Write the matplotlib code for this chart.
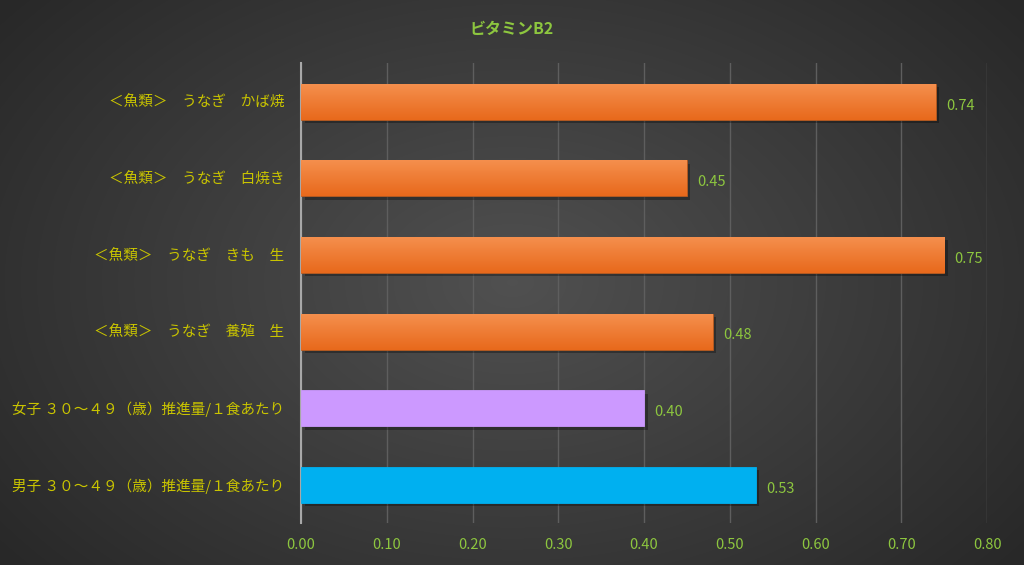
"""ビタミンB2 comparison chart, dark theme."""
import matplotlib
matplotlib.use("Agg")
import matplotlib.pyplot as plt
import matplotlib.patheffects as pe
import numpy as np

plt.rcParams['font.family'] = ['Noto Sans CJK JP', 'DejaVu Sans']

# data (bottom to top)
labels = [
    "男子 ３０～４９（歳）推進量/１食あたり",
    "女子 ３０～４９（歳）推進量/１食あたり",
    "＜魚類＞　うなぎ　養殖　生",
    "＜魚類＞　うなぎ　きも　生",
    "＜魚類＞　うなぎ　白焼き",
    "＜魚類＞　うなぎ　かば焼",
]
values = [0.53, 0.40, 0.48, 0.75, 0.45, 0.74]
colors = ["#00b0f0", "#cc99ff", "#f07a28", "#f07a28", "#f07a28", "#f07a28"]
xticks = [0.0, 0.1, 0.2, 0.3, 0.4, 0.5, 0.6, 0.7, 0.8]
title = "ビタミンB2"

label_col = "#c9c400"
green = "#8dc63f"

fig = plt.figure(figsize=(10.24, 5.65), dpi=100)

# radial background
bg = fig.add_axes([0, 0, 1, 1], zorder=-10)
yy, xx = np.mgrid[0:565, 0:1024]
r = np.sqrt(((xx - 512) / 620.0) ** 2 + ((yy - 282) / 420.0) ** 2)
shade = np.clip(0.315 - 0.15 * r, 0.16, 0.32)
bg.imshow(np.dstack([shade] * 3), aspect="auto", extent=[0, 1, 0, 1])
bg.axis("off")

ax = fig.add_axes([0.294, 0.0743, 0.670, 0.8135])
ax.set_facecolor("none")

bars = ax.barh(range(len(values)), values, height=0.47, color=colors,
               edgecolor="#b85a20", linewidth=0.6, zorder=3)
for b, c in zip(bars, colors):
    if c != "#f07a28":
        b.set_edgecolor(c)
    b.set_path_effects([pe.SimplePatchShadow(offset=(2.5, -2.5), alpha=0.3,
                                             shadow_rgbFace="black"), pe.Normal()])
    # subtle vertical gradient on the orange bars
    if c == "#f07a28":
        x0, y0 = b.get_x(), b.get_y()
        grad = np.linspace(0, 1, 50).reshape(-1, 1)
        cmap = matplotlib.colors.LinearSegmentedColormap.from_list(
            "o", ["#e8691c", "#f5904e"])
        im = ax.imshow(grad, cmap=cmap, aspect="auto", origin="lower",
                       extent=[x0, x0 + b.get_width(), y0, y0 + b.get_height()],
                       zorder=3.5)
        im.set_clip_path(b)

for i, v in enumerate(values):
    ax.text(v + 0.012, i - 0.05, f"{v:.2f}", va="center", ha="left",
            color=green, fontsize=10.5)

ax.set_xlim(0, 0.8)
ax.set_ylim(-0.5, len(values) - 0.5)
ax.set_xticks(xticks, [f"{t:.2f}" for t in xticks])
ax.set_yticks(range(len(labels)), labels)
ax.tick_params(axis="x", colors=green, labelsize=10.5, length=0, pad=11)
ax.tick_params(axis="y", colors=label_col, labelsize=10.5, length=0, pad=12)
for t in ax.get_xticklabels():
    t.set_color(green)
for t in ax.get_yticklabels():
    t.set_color(label_col)

ax.grid(axis="x", color="#5e5e5e", linewidth=1, zorder=0)
ax.grid(axis="y", visible=False)
for s in ["top", "right", "bottom"]:
    ax.spines[s].set_visible(False)
ax.spines["left"].set_color("#a8a8a8")
ax.spines["left"].set_linewidth(1.5)

fig.text(0.5, 0.948, title, ha="center", va="center", color=green,
         fontsize=11.5, fontweight="bold")

fig.savefig("out.png", dpi=100)
